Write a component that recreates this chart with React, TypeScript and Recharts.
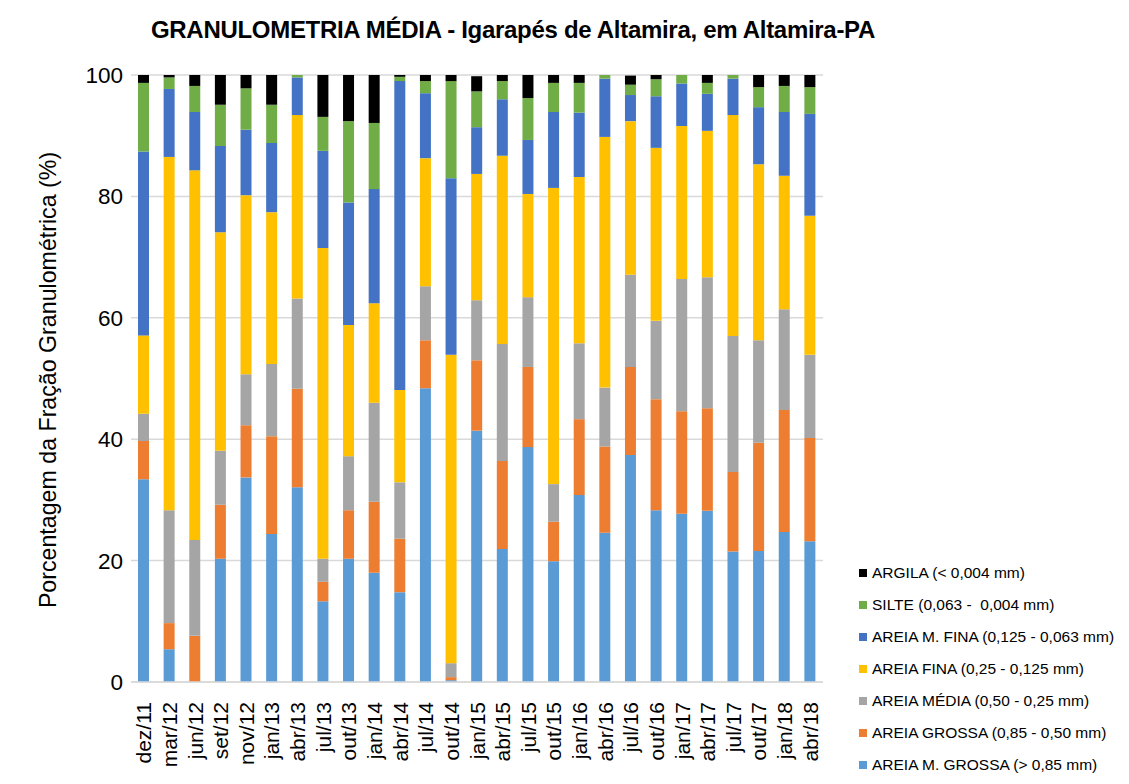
import React from "react";
import { BarChart, Bar, XAxis, YAxis, CartesianGrid } from "recharts";

// ─── Data ─────────────────────────────────────────────────────────────────────

const months = [
  "dez/11", "mar/12", "jun/12", "set/12", "nov/12", "jan/13", "abr/13", "jul/13", "out/13",
  "jan/14", "abr/14", "jul/14", "out/14", "jan/15", "abr/15", "jul/15", "out/15", "jan/16",
  "abr/16", "jul/16", "out/16", "jan/17", "abr/17", "jul/17", "out/17", "jan/18", "abr/18",
];

const areiaMGrossa = [33.4, 5.4, 0, 20.3, 33.7, 24.4, 32.1, 13.3, 20.3, 18.0, 14.8, 48.4, 0.3, 41.4, 21.9, 38.7, 19.9, 30.8, 24.6, 37.4, 28.3, 27.7, 28.2, 21.5, 21.6, 24.7, 23.2];
const areiaGrossa = [6.3, 4.3, 7.6, 8.9, 8.6, 16.1, 16.2, 3.2, 8.0, 11.7, 8.8, 7.9, 0.5, 11.6, 14.5, 13.2, 6.5, 12.5, 14.2, 14.5, 18.3, 16.9, 16.9, 13.1, 17.8, 20.1, 17.0];
const areiaMedia = [4.5, 18.6, 15.8, 8.9, 8.4, 11.9, 14.9, 3.8, 8.9, 16.3, 9.3, 8.9, 2.3, 9.9, 19.3, 11.5, 6.2, 12.5, 9.7, 15.2, 12.9, 21.8, 21.6, 22.4, 16.9, 16.6, 13.7];
const areiaFina = [12.9, 58.2, 60.9, 36.0, 29.5, 25.0, 30.2, 51.2, 21.6, 16.4, 15.2, 21.1, 50.8, 20.8, 31.0, 17.0, 48.8, 27.4, 41.3, 25.3, 28.5, 25.2, 24.1, 36.4, 29.0, 22.0, 22.9];
const areiaMFina = [30.3, 11.2, 9.6, 14.2, 10.8, 11.4, 6.2, 16.0, 20.2, 18.8, 50.9, 10.7, 29.1, 7.7, 9.3, 8.9, 12.5, 10.6, 9.6, 4.3, 8.5, 7.0, 6.1, 6.0, 9.4, 10.5, 16.8];
const silte = [11.3, 1.9, 4.3, 6.8, 6.8, 6.3, 1.9, 5.6, 13.4, 10.9, 0.7, 2.0, 16.0, 5.9, 3.0, 6.9, 4.8, 4.9, 2.6, 1.7, 2.8, 1.7, 1.8, 1.8, 3.3, 4.3, 4.4];
const argila = [1.3, 0.4, 1.8, 4.9, 2.2, 4.9, 0.4, 6.9, 7.6, 7.9, 0.3, 1.0, 1.0, 2.5, 1.0, 3.8, 1.3, 1.5, 0.8, 1.5, 1.8, 0.8, 1.3, 1.0, 2.0, 2.3, 2.0];

const yTicks = [0, 20, 40, 60, 80, 100];

// stack order, bottom to top
const series = [
  { key: "amg", name: "AREIA M. GROSSA (> 0,85 mm)", color: "#5B9BD5", values: areiaMGrossa },
  { key: "ag", name: "AREIA GROSSA (0,85 - 0,50 mm)", color: "#ED7D31", values: areiaGrossa },
  { key: "am", name: "AREIA MÉDIA (0,50 - 0,25 mm)", color: "#A5A5A5", values: areiaMedia },
  { key: "af", name: "AREIA FINA (0,25 - 0,125 mm)", color: "#FFC000", values: areiaFina },
  { key: "amf", name: "AREIA M. FINA (0,125 - 0,063 mm)", color: "#4472C4", values: areiaMFina },
  { key: "silte", name: "SILTE (0,063 -  0,004 mm)", color: "#70AD47", values: silte },
  { key: "argila", name: "ARGILA (< 0,004 mm)", color: "#000000", values: argila },
];

const data = months.map((m, i) => {
  const row: Record<string, string | number> = { month: m };
  series.forEach((s) => (row[s.key] = s.values[i]));
  return row;
});

const FONT = "'Liberation Sans', Arial, sans-serif";

// ─── Axis tick / legend ───────────────────────────────────────────────────────

function MonthTick({ x, y, payload }: any) {
  const ty = y + 12;
  return (
    <text
      x={x}
      y={ty}
      transform={`rotate(-90, ${x}, ${ty})`}
      textAnchor="end"
      dominantBaseline="central"
      fontSize={21}
      fontFamily={FONT}
      fill="#000"
    >
      {payload.value}
    </text>
  );
}

function SideLegend() {
  const items = [...series].reverse();
  return (
    <div
      style={{
        position: "absolute",
        left: 859,
        top: 557,
        fontFamily: FONT,
        fontSize: 15.5,
        color: "#000",
        whiteSpace: "pre",
      }}
    >
      {items.map((s) => (
        <div key={s.key} style={{ display: "flex", alignItems: "center", height: 32 }}>
          <span
            style={{ width: 8, height: 8, background: s.color, marginRight: 5, display: "inline-block" }}
          />
          <span>{s.name}</span>
        </div>
      ))}
    </div>
  );
}

// ─── Chart ────────────────────────────────────────────────────────────────────

export default function App() {
  return (
    <div style={{ position: "absolute", left: 0, top: 0, width: 1129, height: 784, background: "#fff" }}>
      <div
        style={{
          position: "absolute",
          left: 0,
          width: 1026,
          top: 16,
          textAlign: "center",
          fontFamily: FONT,
          fontWeight: "bold",
          fontSize: 24,
          letterSpacing: -0.3,
          color: "#000",
        }}
      >
        GRANULOMETRIA MÉDIA - Igarapés de Altamira, em Altamira-PA
      </div>
      <div
        style={{
          position: "absolute",
          left: 48,
          top: 380,
          transform: "translate(-50%, -50%) rotate(-90deg)",
          whiteSpace: "nowrap",
          fontFamily: FONT,
          fontSize: 23.2,
          color: "#000",
        }}
      >
        Porcentagem da Fração Granulométrica (%)
      </div>
      <BarChart
        width={1129}
        height={784}
        data={data}
        margin={{ top: 75, right: 306, left: 71, bottom: 12 }}
        barSize={11}
        style={{ position: "absolute", left: 0, top: 0 }}
      >
        <CartesianGrid vertical={false} stroke="#d9d9d9" strokeWidth={1.5} />
        <XAxis
          dataKey="month"
          interval={0}
          height={90}
          tickLine={false}
          axisLine={{ stroke: "#d9d9d9", strokeWidth: 1.5 }}
          tick={<MonthTick />}
        />
        <YAxis
          domain={[0, 100]}
          ticks={yTicks}
          allowDataOverflow
          width={60}
          tickLine={false}
          axisLine={false}
          tick={{ fontSize: 22.5, fill: "#000", fontFamily: FONT }}
        />
        {series.map((s) => (
          <Bar
            key={s.key}
            dataKey={s.key}
            name={s.name}
            stackId="a"
            fill={s.color}
            isAnimationActive={false}
          />
        ))}
      </BarChart>
      <SideLegend />
    </div>
  );
}
